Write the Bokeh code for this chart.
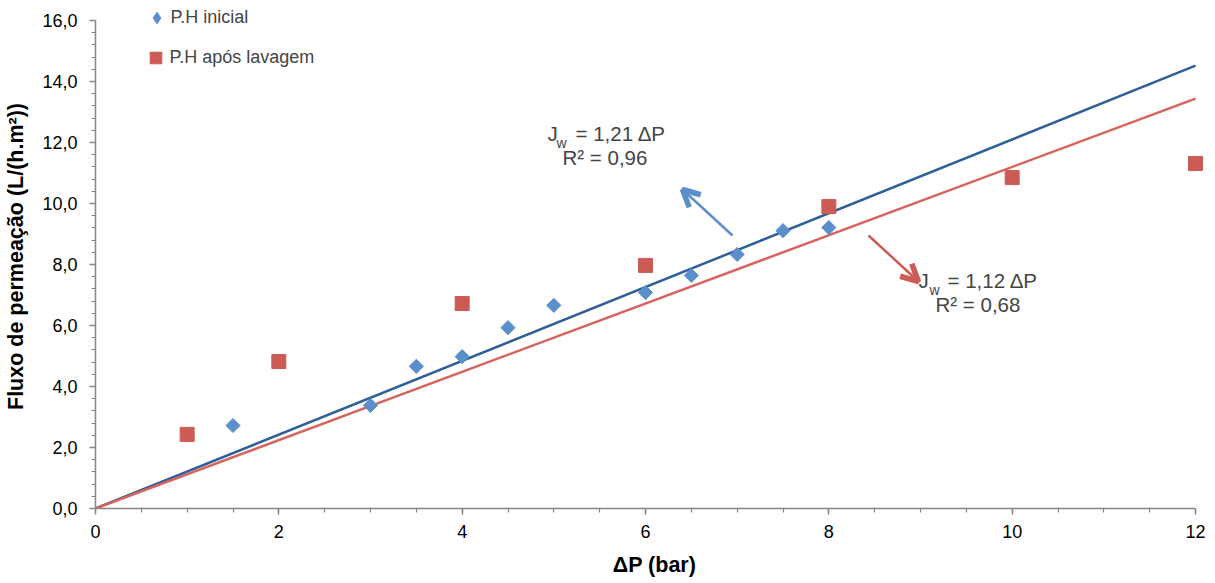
import numpy as np
from bokeh.plotting import figure
from bokeh.models import (FixedTicker, Legend, LegendItem, Label, Arrow, OpenHead)
from bokeh.embed import file_html
from bokeh.resources import INLINE

# ---- data ----
x_inicial = [1.5, 3.0, 3.5, 4.0, 4.5, 5.0, 6.0, 6.5, 7.0, 7.5, 8.0]
y_inicial = [2.72, 3.38, 4.66, 4.98, 5.93, 6.66, 7.08, 7.64, 8.33, 9.11, 9.21]

x_lavagem = [1, 2, 4, 6, 8, 10, 12]
y_lavagem = [2.43, 4.82, 6.72, 7.97, 9.90, 10.85, 11.31]

slope_inicial = 1.21
slope_lavagem = 1.12
fit_x = [0, 12]

x_ticks = [0, 2, 4, 6, 8, 10, 12]
y_ticks = [0, 2, 4, 6, 8, 10, 12, 14, 16]
y_tick_labels = ["0,0", "2,0", "4,0", "6,0", "8,0", "10,0", "12,0", "14,0", "16,0"]

series_names = ["P.H inicial", "P.H após lavagem"]
eq_inicial = ["J", "w", "= 1,21 ΔP", "R² = 0,96"]
eq_lavagem = ["J", "w", "= 1,12 ΔP", "R² = 0,68"]

# ---- styling ----
FONT = "Liberation Sans"
BLUE = "#5B8FCB"
RED = "#CD5B55"
BLUE_LINE = "#2E5F99"
RED_LINE = "#D7645C"
AXIS = "#868686"

PX_X = 1100 / 12      # pixels per x unit
PX_Y = 488 / 16       # pixels per y unit
X_END = 12 + 18 / PX_X
Y_END = 16 + 16 / PX_Y

p = figure(width=1215, height=583, x_range=(0, X_END), y_range=(0, Y_END),
           output_backend="svg", toolbar_location=None,
           min_border_left=95, min_border_right=2, min_border_top=4,
           min_border_bottom=75)
p.outline_line_color = None
p.grid.visible = False
p.background_fill_color = "white"
p.border_fill_color = "white"

# trend lines
p.line(fit_x, [slope_inicial * v for v in fit_x], line_color=BLUE_LINE, line_width=2.5)
p.line(fit_x, [slope_lavagem * v for v in fit_x], line_color=RED_LINE, line_width=2.5)

r1 = p.scatter(x_inicial, y_inicial, marker="square", angle=np.pi / 4, size=10,
               fill_color=BLUE, line_color=BLUE)
r2 = p.scatter(x_lavagem, y_lavagem, marker="square", size=14,
               fill_color=RED, line_color=RED)
# hidden proxy renderer, only used for the diamond symbol in the legend
r1_leg = p.scatter(x_inicial[:1], y_inicial[:1], marker="diamond",
                   fill_color=BLUE, line_color=BLUE, visible=False)

# axes
p.xaxis.ticker = FixedTicker(ticks=x_ticks, minor_ticks=list(np.arange(0, 12.01, 0.5)))
p.yaxis.ticker = FixedTicker(ticks=y_ticks, minor_ticks=list(np.arange(0, 16.01, 0.4)))
p.yaxis.major_label_overrides = {t: l for t, l in zip(y_ticks, y_tick_labels)}
p.xaxis.major_label_overrides = {t: str(t) for t in x_ticks}
p.xaxis.bounds = (0, 12)
p.yaxis.bounds = (0, 16)

for ax in (p.xaxis[0], p.yaxis[0]):
    ax.axis_line_color = AXIS
    ax.axis_line_width = 1.5
    ax.major_tick_line_color = AXIS
    ax.minor_tick_line_color = AXIS
    ax.major_tick_line_width = 1.5
    ax.minor_tick_line_width = 1.2
    ax.major_tick_in = 0
    ax.major_tick_out = 6
    ax.minor_tick_in = 0
    ax.minor_tick_out = 4
    ax.major_label_text_font = FONT
    ax.major_label_text_font_size = "18px"
    ax.major_label_text_color = "black"
    ax.major_label_standoff = 12
    ax.axis_label_text_font = FONT
    ax.axis_label_text_font_size = "21.5px"
    ax.axis_label_text_font_style = "bold"
    ax.axis_label_text_color = "black"
    ax.axis_label_standoff = 11

p.xaxis.axis_label = "ΔP (bar)"
p.yaxis.axis_label = "Fluxo de permeação (L/(h.m²))"
p.xaxis.major_label_standoff = 10
p.xaxis.axis_label_standoff = 12


def legend_for(name, renderer, box, cx, cy):
    # cx, cy: glyph centre in picture pixels
    return Legend(items=[LegendItem(label=name, renderers=[renderer])],
                  location=(cx - box / 2 - 95, 508 - (cy + box / 2)),
                  orientation="vertical", background_fill_alpha=0,
                  border_line_color=None, label_text_font=FONT,
                  label_text_font_size="18px", padding=0, margin=0, spacing=0,
                  glyph_height=box, glyph_width=box, label_height=box,
                  label_standoff=0, click_policy="none")


p.add_layout(legend_for(series_names[0], r1_leg, 29, 156, 17))
p.add_layout(legend_for(series_names[1], r2, 29, 155, 57))


def dx(px):
    return (px - 95) / PX_X


def dy(py):
    return (508 - py) / PX_Y


def add_eq(texts, jx, jy, wx, wy, ex, rx, ry):
    p.add_layout(Label(x=dx(jx), y=dy(jy), text=texts[0], text_font=FONT,
                       text_font_size="20.5px", text_baseline="middle", text_align="left"))
    p.add_layout(Label(x=dx(wx), y=dy(wy), text=texts[1], text_font=FONT,
                       text_font_size="14px", text_baseline="middle", text_align="left"))
    p.add_layout(Label(x=dx(ex), y=dy(jy), text=texts[2], text_font=FONT,
                       text_font_size="20.5px", text_baseline="middle", text_align="left"))
    p.add_layout(Label(x=dx(rx), y=dy(ry), text=texts[3], text_font=FONT,
                       text_font_size="20.5px", text_baseline="middle", text_align="left"))


add_eq(eq_inicial, 547, 133, 556, 142, 575, 562, 157)
add_eq(eq_lavagem, 918, 280, 929, 289, 947, 935, 304)

p.add_layout(Arrow(end=OpenHead(size=17, line_width=5.5, line_color=BLUE),
                   x_start=dx(732), y_start=dy(235), x_end=dx(682), y_end=dy(189),
                   line_color=BLUE, line_width=2.5))
p.add_layout(Arrow(end=OpenHead(size=17, line_width=5.5, line_color=RED),
                   x_start=dx(868), y_start=dy(235), x_end=dx(918), y_end=dy(281),
                   line_color=RED, line_width=2.5))

open("out.html", "w").write(file_html(p, INLINE))
